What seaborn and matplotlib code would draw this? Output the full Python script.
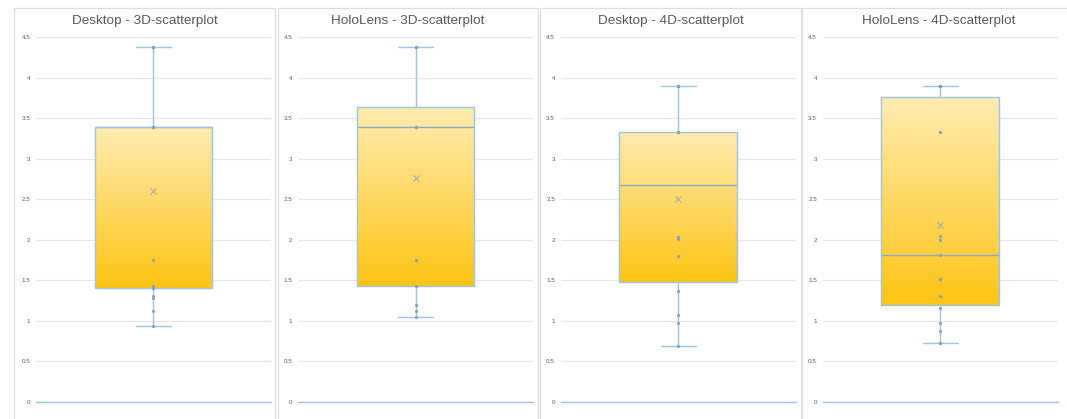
import numpy as np
import pandas as pd
import matplotlib
matplotlib.use("Agg")
import matplotlib.pyplot as plt
from matplotlib.patches import Rectangle
import seaborn as sns

# panel titles
titles = ["Desktop - 3D-scatterplot", "HoloLens - 3D-scatterplot",
          "Desktop - 4D-scatterplot", "HoloLens - 4D-scatterplot"]

# values (overlapping points estimated)
desktop_3d = [0.93, 1.12, 1.28, 1.31, 1.40, 1.40, 1.43, 1.75,
              3.39, 3.39, 3.39, 3.39, 3.39, 3.39, 4.38, 4.38, 4.38]
hololens_3d = [1.04, 1.12, 1.19, 1.43, 1.43, 1.75, 1.75,
               3.39, 3.39, 3.39, 3.39, 3.39, 4.38, 4.38, 4.38, 4.38]
desktop_4d = [0.69, 0.97, 1.07, 1.37, 1.80, 2.01, 2.03,
              3.33, 3.33, 3.33, 3.33, 3.90, 3.90, 3.90]
hololens_4d = [0.72, 0.72, 0.87, 0.97, 1.15, 1.30, 1.51, 1.51, 1.81, 1.81,
               2.00, 2.05, 3.33, 3.90, 3.90, 3.90, 3.90, 3.90]

series = [desktop_3d, hololens_3d, desktop_4d, hololens_4d]
yticks = [0, 0.5, 1, 1.5, 2, 2.5, 3, 3.5, 4, 4.5]
ytick_labels = ["0", "0.5", "1", "1.5", "2", "2.5", "3", "3.5", "4", "4.5"]

sns.set_theme(style="white")
plt.rcParams["font.family"] = ["Liberation Sans", "DejaVu Sans"]

W, H = 1067, 419
fig = plt.figure(figsize=(W / 100, H / 100), dpi=100)
fig.patch.set_facecolor("white")

frames = [(14, 275), (278, 538), (540, 801), (802, 1075)]
plots = [(35.7, 271), (298, 533), (560.5, 796), (822.5, 1058)]
top_px, bot_px = 37, 401.7

edge = "#9dc3e6"
grad_top = np.array([254, 236, 178]) / 255
grad_bot = np.array([255, 196, 20]) / 255
grad = np.linspace(grad_bot, grad_top, 256).reshape(256, 1, 3)

for i, vals in enumerate(series):
    fl, fr = frames[i]
    fig.patches.append(Rectangle((fl / W, -0.1), (fr - fl) / W, 1.1 - 8 / H,
                                 transform=fig.transFigure, fill=False,
                                 edgecolor="#dedede", lw=0.9))
    fig.text((fl + fr) / 2 / W, 1 - 21 / H, titles[i], ha="center", va="center",
             fontsize=9.7, color="#595959")

    pl, pr = plots[i]
    ax = fig.add_axes([pl / W, (H - bot_px) / H, (pr - pl) / W, (bot_px - top_px) / H])
    df = pd.DataFrame({"value": vals})

    sns.boxplot(data=df, y="value", ax=ax, width=0.5, capwidths=0.15,
                whis=1.5, showmeans=True, showfliers=False,
                boxprops=dict(facecolor="white", edgecolor=edge, linewidth=1, zorder=2),
                whiskerprops=dict(color=edge, linewidth=1),
                capprops=dict(color=edge, linewidth=1),
                medianprops=dict(color="#8fa9c2", linewidth=1, zorder=1.8),
                meanprops=dict(marker="x", markeredgecolor="#ababab",
                               markerfacecolor="none", markersize=5,
                               markeredgewidth=0.8, zorder=4))
    sns.stripplot(data=df, y="value", ax=ax, jitter=False, size=2.3,
                  color="#8aa2b4", linewidth=0, zorder=4)

    # gradient fill inside the box
    box = ax.patches[0]
    box.set_facecolor("none")
    ext = box.get_path().get_extents()
    img = ax.imshow(grad, extent=[ext.x0, ext.x1, ext.y0, ext.y1], origin="lower",
                    aspect="auto", zorder=1.5, interpolation="bilinear")
    img.set_clip_path(box)

    ax.set_xlim(-0.5, 0.5)
    ax.set_ylim(0, 4.5)
    ax.set_yticks(yticks)
    ax.set_yticklabels(ytick_labels)
    ax.set_xticks([])
    ax.set_xlabel("")
    ax.set_ylabel("")
    ax.set_facecolor("none")
    ax.set_axisbelow(True)
    ax.grid(axis="y", color="#e6e6e6", linewidth=0.9)
    for s in ["top", "right", "left"]:
        ax.spines[s].set_visible(False)
    ax.spines["bottom"].set_color(edge)
    ax.spines["bottom"].set_linewidth(1)
    ax.tick_params(axis="y", length=0, pad=4, labelsize=4.5, labelcolor="#595959")

fig.savefig("out.png", dpi=100)
